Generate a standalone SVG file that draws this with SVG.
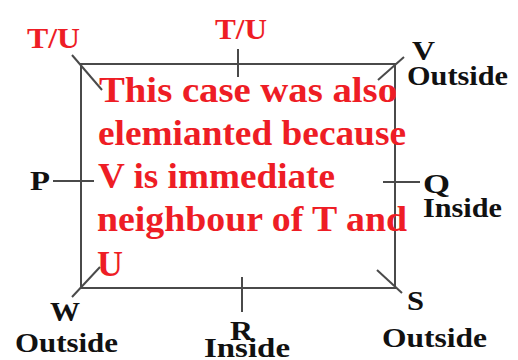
<svg xmlns="http://www.w3.org/2000/svg" width="518" height="360" viewBox="0 0 518 360">
<style>
.lbl{font-family:"Liberation Serif","Times New Roman",serif;font-weight:bold;fill:#111;font-size:28px}
.red{font-family:"Liberation Serif","Times New Roman",serif;font-weight:bold;fill:#ee1d25}
.ln{stroke:#4a4a4a;stroke-width:2;fill:none}
</style>
<rect width="518" height="360" fill="#fff"/>
<g id="frame"><rect class="ln" x="81" y="64" width="314" height="224"/></g>
<g id="connectors">
<line class="ln" x1="72" y1="55" x2="102" y2="90"/>
<line class="ln" x1="238" y1="49" x2="238" y2="77"/>
<line class="ln" x1="404" y1="57" x2="378" y2="80"/>
<line class="ln" x1="53" y1="181" x2="94" y2="181"/>
<line class="ln" x1="383" y1="182" x2="420" y2="182"/>
<line class="ln" x1="72" y1="297" x2="100" y2="267"/>
<line class="ln" x1="242" y1="277" x2="242" y2="312"/>
<line class="ln" x1="377" y1="270" x2="402" y2="293"/>
</g>
<g id="tu-left"><text class="red" x="27" y="48" font-size="30" textLength="53" lengthAdjust="spacingAndGlyphs">T/U</text></g>
<g id="tu-top"><text class="red" x="215" y="39" font-size="30" textLength="52" lengthAdjust="spacingAndGlyphs">T/U</text></g>
<g id="v"><text class="lbl" x="412" y="60" textLength="23" lengthAdjust="spacingAndGlyphs">V</text><text class="lbl" x="407" y="85" textLength="101" lengthAdjust="spacingAndGlyphs">Outside</text></g>
<g id="p"><text class="lbl" x="30" y="190" textLength="20" lengthAdjust="spacingAndGlyphs">P</text></g>
<g id="q"><text class="lbl" x="423" y="193" textLength="27" lengthAdjust="spacingAndGlyphs">Q</text><text class="lbl" x="423" y="217" textLength="79" lengthAdjust="spacingAndGlyphs">Inside</text></g>
<g id="w"><text class="lbl" x="50" y="321" textLength="30" lengthAdjust="spacingAndGlyphs">W</text><text class="lbl" x="15" y="352" textLength="103" lengthAdjust="spacingAndGlyphs">Outside</text></g>
<g id="r"><text class="lbl" x="230" y="340" textLength="23" lengthAdjust="spacingAndGlyphs">R</text><text class="lbl" x="204" y="357" textLength="86" lengthAdjust="spacingAndGlyphs">Inside</text></g>
<g id="s"><text class="lbl" x="407" y="310" textLength="17" lengthAdjust="spacingAndGlyphs">S</text><text class="lbl" x="382" y="347" textLength="105" lengthAdjust="spacingAndGlyphs">Outside</text></g>
<g id="note" class="red" font-size="36">
<text x="99" y="102" textLength="298" lengthAdjust="spacingAndGlyphs">This case was also</text>
<text x="98" y="145" textLength="308" lengthAdjust="spacingAndGlyphs">elemianted because</text>
<text x="98" y="188" textLength="237" lengthAdjust="spacingAndGlyphs">V is immediate</text>
<text x="97" y="231" textLength="310" lengthAdjust="spacingAndGlyphs">neighbour of T and</text>
<text x="97" y="276">U</text>
</g>
</svg>
